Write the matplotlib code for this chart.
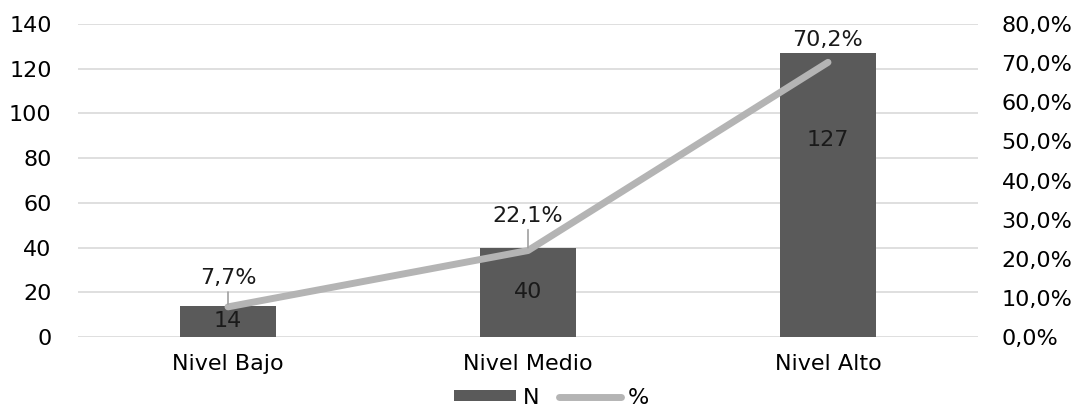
import matplotlib.pyplot as plt
from matplotlib.lines import Line2D
from matplotlib.patches import Patch

plt.rcParams['font.family'] = ['DejaVu Sans']

# categories and series
niveles = ["Nivel Bajo", "Nivel Medio", "Nivel Alto"]
n_vals = [14, 40, 127]
pct_vals = [7.7, 22.1, 70.2]

bar_color = "#5a5a5a"
line_color = "#b4b4b4"
grid_color = "#d9d9d9"
fs = 16

fig = plt.figure(figsize=(10.81, 4.12), dpi=100)
ax = fig.add_axes([78 / 1081, 75 / 412, 900 / 1081, 313 / 412])
ax2 = ax.twinx()

x = list(range(len(niveles)))
ax.bar(x, n_vals, width=0.32, color=bar_color, zorder=2)
ax.set_xlim(-0.5, 2.5)
ax.set_ylim(0, 140)
ax.set_yticks(range(0, 141, 20))
ax.yaxis.grid(True, color=grid_color, linewidth=1.2)
ax.set_axisbelow(True)
ax.set_xticks(x)
ax.set_xticklabels(niveles, fontsize=fs)
ax.tick_params(axis='x', length=0, pad=12)
ax.tick_params(axis='y', length=0, pad=19, labelsize=fs)

ax2.plot(x, pct_vals, color=line_color, linewidth=5, solid_capstyle='round', zorder=3)
ax2.set_ylim(0, 80)
ax2.set_yticks(range(0, 81, 10))
ax2.set_yticklabels([f"{v},0%" for v in range(0, 81, 10)])
ax2.tick_params(axis='y', length=0, pad=17, labelsize=fs)

for a in (ax, ax2):
    for s in a.spines.values():
        s.set_visible(False)

# value labels inside the bars
label_y = [n_vals[0] / 2, n_vals[1] / 2, 88]
for xi, v, ly in zip(x, n_vals, label_y):
    ax.text(xi, ly, str(v), ha='center', va='center', fontsize=fs, color="#1a1a1a", zorder=4)

# percentage labels above the line points, with leader lines
offsets = [29, 35, 22]
leaders = [True, True, False]
for xi, p, off, lead in zip(x, pct_vals, offsets, leaders):
    lbl = f"{p:.1f}%".replace(".", ",")
    ax2.annotate(lbl, xy=(xi, p), xytext=(0, off), textcoords='offset pixels',
                 ha='center', va='center', fontsize=fs, color="#1a1a1a",
                 arrowprops=dict(arrowstyle='-', color="#a0a0a0", lw=1.2,
                                 shrinkA=1, shrinkB=2) if lead else None,
                 zorder=5)

handles = [Patch(facecolor=bar_color, edgecolor='none'),
           Line2D([0], [0], color=line_color, linewidth=5, solid_capstyle='round')]
fig.legend(handles, ["N", "%"], loc='center', bbox_to_anchor=(0.51, 0.035), ncol=2,
           frameon=False, fontsize=fs, handlelength=2.8, handleheight=0.36,
           handletextpad=0.3, columnspacing=0.9, borderpad=0)

fig.savefig("out.png", dpi=100)
